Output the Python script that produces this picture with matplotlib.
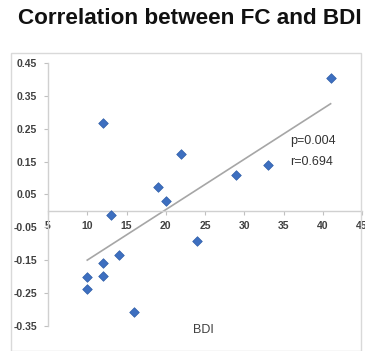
import numpy as np
import matplotlib
matplotlib.use("Agg")
import matplotlib.pyplot as plt
from matplotlib.patches import Rectangle

# 데이터
bdi = [41, 12, 22, 19, 20, 33, 29, 13, 24, 14, 12, 12, 10, 10, 16]
fc = [0.405, 0.267, 0.174, 0.073, 0.030, 0.139, 0.110, -0.011, -0.091,
      -0.134, -0.157, -0.199, -0.202, -0.238, -0.308]
xticks = [5, 10, 15, 20, 25, 30, 35, 40, 45]
yticks = [0.45, 0.35, 0.25, 0.15, 0.05, -0.05, -0.15, -0.25, -0.35]
ytick_labels = ["0.45", "0.35", "0.25", "0.15", "0.05", "-0.05", "-0.15", "-0.25", "-0.35"]
stats = ["p=0.004", "r=0.694"]

plt.rcParams["font.family"] = ["Liberation Sans", "DejaVu Sans"]

fig = plt.figure(figsize=(3.65, 3.51), dpi=100)
# 차트 영역 테두리
fig.patches.append(Rectangle((11 / 365, 0.0), 350 / 365, 1 - 53 / 351,
                             transform=fig.transFigure, fill=False,
                             edgecolor="#d9d9d9", linewidth=1.0))

ax = fig.add_axes([48 / 365, 1 - 326 / 351, (362 - 48) / 365, (326 - 63) / 351])
ax.set_xlim(5, 45)
ax.set_ylim(-0.35, 0.45)

ax.scatter(bdi, fc, marker="D", s=24, color="#3d6fc0", edgecolor="#2f5ea8",
           linewidth=0.5, zorder=3)

# 추세선
coef = np.polyfit(bdi, fc, 1)
xs = np.array([min(bdi), max(bdi)])
ax.plot(xs, np.polyval(coef, xs), color="#a6a6a6", linewidth=1.2, zorder=2)

ax.spines["top"].set_visible(False)
ax.spines["right"].set_visible(False)
ax.spines["bottom"].set_position(("data", 0))
for s in ["left", "bottom"]:
    ax.spines[s].set_color("#d0d0d0")
    ax.spines[s].set_linewidth(1.0)

ax.set_xticks(xticks)
ax.set_yticks(yticks)
ax.set_yticklabels(ytick_labels)
ax.tick_params(axis="both", colors="#c0c0c0", length=3, width=0.8,
               labelsize=7.5, labelcolor="#404040", direction="out")
for lbl in ax.get_xticklabels() + ax.get_yticklabels():
    lbl.set_fontweight("bold")
ax.tick_params(axis="y", pad=5)
ax.tick_params(axis="x", pad=4)

ax.text(0.77, 0.705, stats[0], transform=ax.transAxes, fontsize=9,
        color="#333333", va="center")
ax.text(0.77, 0.625, stats[1], transform=ax.transAxes, fontsize=9,
        color="#333333", va="center")

fig.text(193 / 365, 1 - 330 / 351, "BDI", fontsize=9, color="#404040", va="center")
fig.text(190 / 365, 1 - 18 / 351, "Correlation between FC and BDI", fontsize=16.2,
         fontweight="bold", ha="center", va="center", color="#111111")

fig.savefig("out.png", dpi=100)
